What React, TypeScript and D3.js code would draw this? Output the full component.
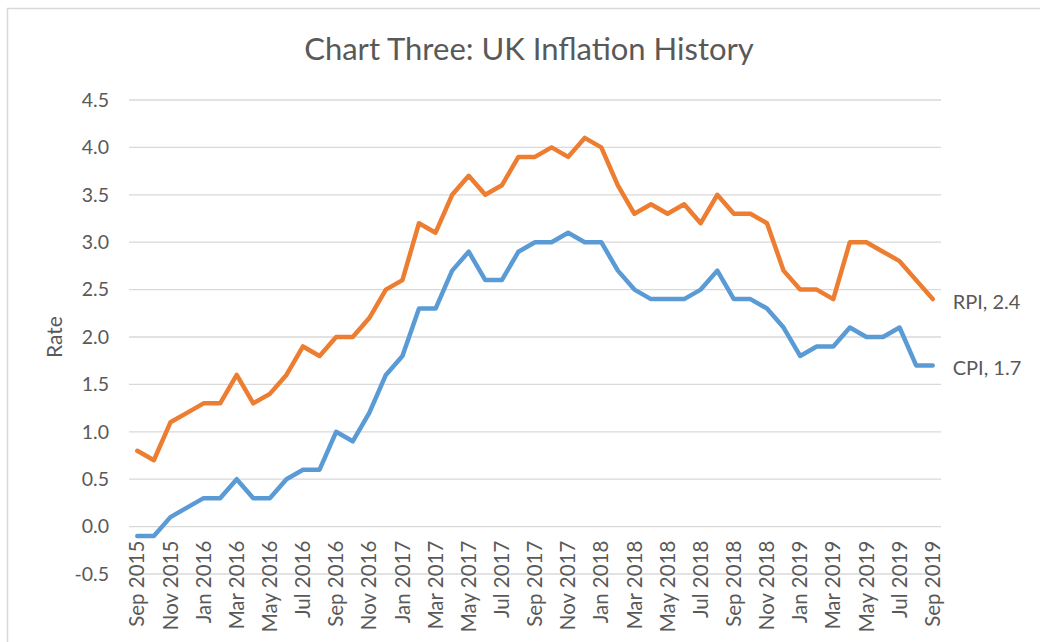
import React, { useEffect, useRef } from "react";
import * as d3 from "d3";

// monthly labels, Sep 2015 .. Sep 2019
const months = [
  "Sep 2015", "Oct 2015", "Nov 2015", "Dec 2015",
  "Jan 2016", "Feb 2016", "Mar 2016", "Apr 2016", "May 2016", "Jun 2016",
  "Jul 2016", "Aug 2016", "Sep 2016", "Oct 2016", "Nov 2016", "Dec 2016",
  "Jan 2017", "Feb 2017", "Mar 2017", "Apr 2017", "May 2017", "Jun 2017",
  "Jul 2017", "Aug 2017", "Sep 2017", "Oct 2017", "Nov 2017", "Dec 2017",
  "Jan 2018", "Feb 2018", "Mar 2018", "Apr 2018", "May 2018", "Jun 2018",
  "Jul 2018", "Aug 2018", "Sep 2018", "Oct 2018", "Nov 2018", "Dec 2018",
  "Jan 2019", "Feb 2019", "Mar 2019", "Apr 2019", "May 2019", "Jun 2019",
  "Jul 2019", "Aug 2019", "Sep 2019",
];

const rpi = [
  0.8, 0.7, 1.1, 1.2,
  1.3, 1.3, 1.6, 1.3, 1.4, 1.6, 1.9, 1.8, 2.0, 2.0, 2.2, 2.5,
  2.6, 3.2, 3.1, 3.5, 3.7, 3.5, 3.6, 3.9, 3.9, 4.0, 3.9, 4.1,
  4.0, 3.6, 3.3, 3.4, 3.3, 3.4, 3.2, 3.5, 3.3, 3.3, 3.2, 2.7,
  2.5, 2.5, 2.4, 3.0, 3.0, 2.9, 2.8, 2.6, 2.4,
];

const cpi = [
  -0.1, -0.1, 0.1, 0.2,
  0.3, 0.3, 0.5, 0.3, 0.3, 0.5, 0.6, 0.6, 1.0, 0.9, 1.2, 1.6,
  1.8, 2.3, 2.3, 2.7, 2.9, 2.6, 2.6, 2.9, 3.0, 3.0, 3.1, 3.0,
  3.0, 2.7, 2.5, 2.4, 2.4, 2.4, 2.5, 2.7, 2.4, 2.4, 2.3, 2.1,
  1.8, 1.9, 1.9, 2.1, 2.0, 2.0, 2.1, 1.7, 1.7,
];

const yTicks = [-0.5, 0, 0.5, 1, 1.5, 2, 2.5, 3, 3.5, 4, 4.5];

const series = [
  { name: "RPI", values: rpi, color: "#ED7D31" },
  { name: "CPI", values: cpi, color: "#5B9BD5" },
];

const W = 1040, H = 642;
const font = "Lato, 'Open Sans', sans-serif";
const textColor = "#595959";

export default function App() {
  const ref = useRef<SVGSVGElement>(null);

  useEffect(() => {
    const svg = d3.select(ref.current);
    svg.selectAll("*").remove();

    const left = 129, right = 941, top = 100, bottom = 574;

    const x = d3.scalePoint<string>()
      .domain(months)
      .range([left, right])
      .padding(0.5);

    const y = d3.scaleLinear()
      .domain([-0.5, 4.5])
      .range([bottom, top]);

    // chart border
    svg.append("rect")
      .attr("x", 7.5).attr("y", 8.5)
      .attr("width", W + 20).attr("height", H + 20)
      .attr("fill", "white")
      .attr("stroke", "#D9D9D9")
      .attr("stroke-width", 1.5);

    // title
    svg.append("text")
      .attr("x", 529).attr("y", 60)
      .attr("text-anchor", "middle")
      .attr("font-family", font)
      .attr("font-size", 31)
      .attr("fill", textColor)
      .text("Chart Three: UK Inflation History");

    // gridlines
    svg.append("g")
      .selectAll("line")
      .data(yTicks)
      .enter()
      .append("line")
      .attr("x1", left).attr("x2", right)
      .attr("y1", d => y(d)).attr("y2", d => y(d))
      .attr("stroke", "#D9D9D9")
      .attr("stroke-width", 1.3);

    // y axis labels (plain hyphen for negatives, like the original)
    svg.append("g")
      .selectAll("text")
      .data(yTicks)
      .enter()
      .append("text")
      .attr("x", 109)
      .attr("y", d => y(d))
      .attr("dy", "0.35em")
      .attr("text-anchor", "end")
      .attr("font-family", font)
      .attr("font-size", 19.5)
      .attr("fill", textColor)
      .text(d => d.toFixed(1));

    // y axis title
    svg.append("text")
      .attr("transform", `translate(55,${(top + bottom) / 2}) rotate(-90)`)
      .attr("dy", "0.35em")
      .attr("text-anchor", "middle")
      .attr("font-family", font)
      .attr("font-size", 21)
      .attr("fill", textColor)
      .text("Rate");

    // x labels every second month, hung just under the zero line
    svg.append("g")
      .selectAll("text")
      .data(months.filter((_, i) => i % 2 === 0))
      .enter()
      .append("text")
      .attr("transform", d => `translate(${x(d)},${y(0) + 14}) rotate(-90)`)
      .attr("dy", "0.35em")
      .attr("text-anchor", "end")
      .attr("font-family", font)
      .attr("font-size", 20.5)
      .attr("fill", textColor)
      .text(d => d);

    const line = d3.line<number>()
      .x((_, i) => x(months[i]) as number)
      .y(d => y(d));

    series.forEach(s => {
      svg.append("path")
        .datum(s.values)
        .attr("d", line)
        .attr("fill", "none")
        .attr("stroke", s.color)
        .attr("stroke-width", 4.5)
        .attr("stroke-linejoin", "round")
        .attr("stroke-linecap", "round");

      const last = s.values[s.values.length - 1];
      svg.append("text")
        .attr("x", (x(months[months.length - 1]) as number) + 20)
        .attr("y", y(last) + 3)
        .attr("dy", "0.35em")
        .attr("font-family", font)
        .attr("font-size", 20)
        .attr("fill", textColor)
        .text(`${s.name}, ${last}`);
    });
  }, []);

  return (
    <div style={{ position: "absolute", left: 0, top: 0 }}>
      <svg ref={ref} width={W} height={H} style={{ display: "block" }} />
    </div>
  );
}
